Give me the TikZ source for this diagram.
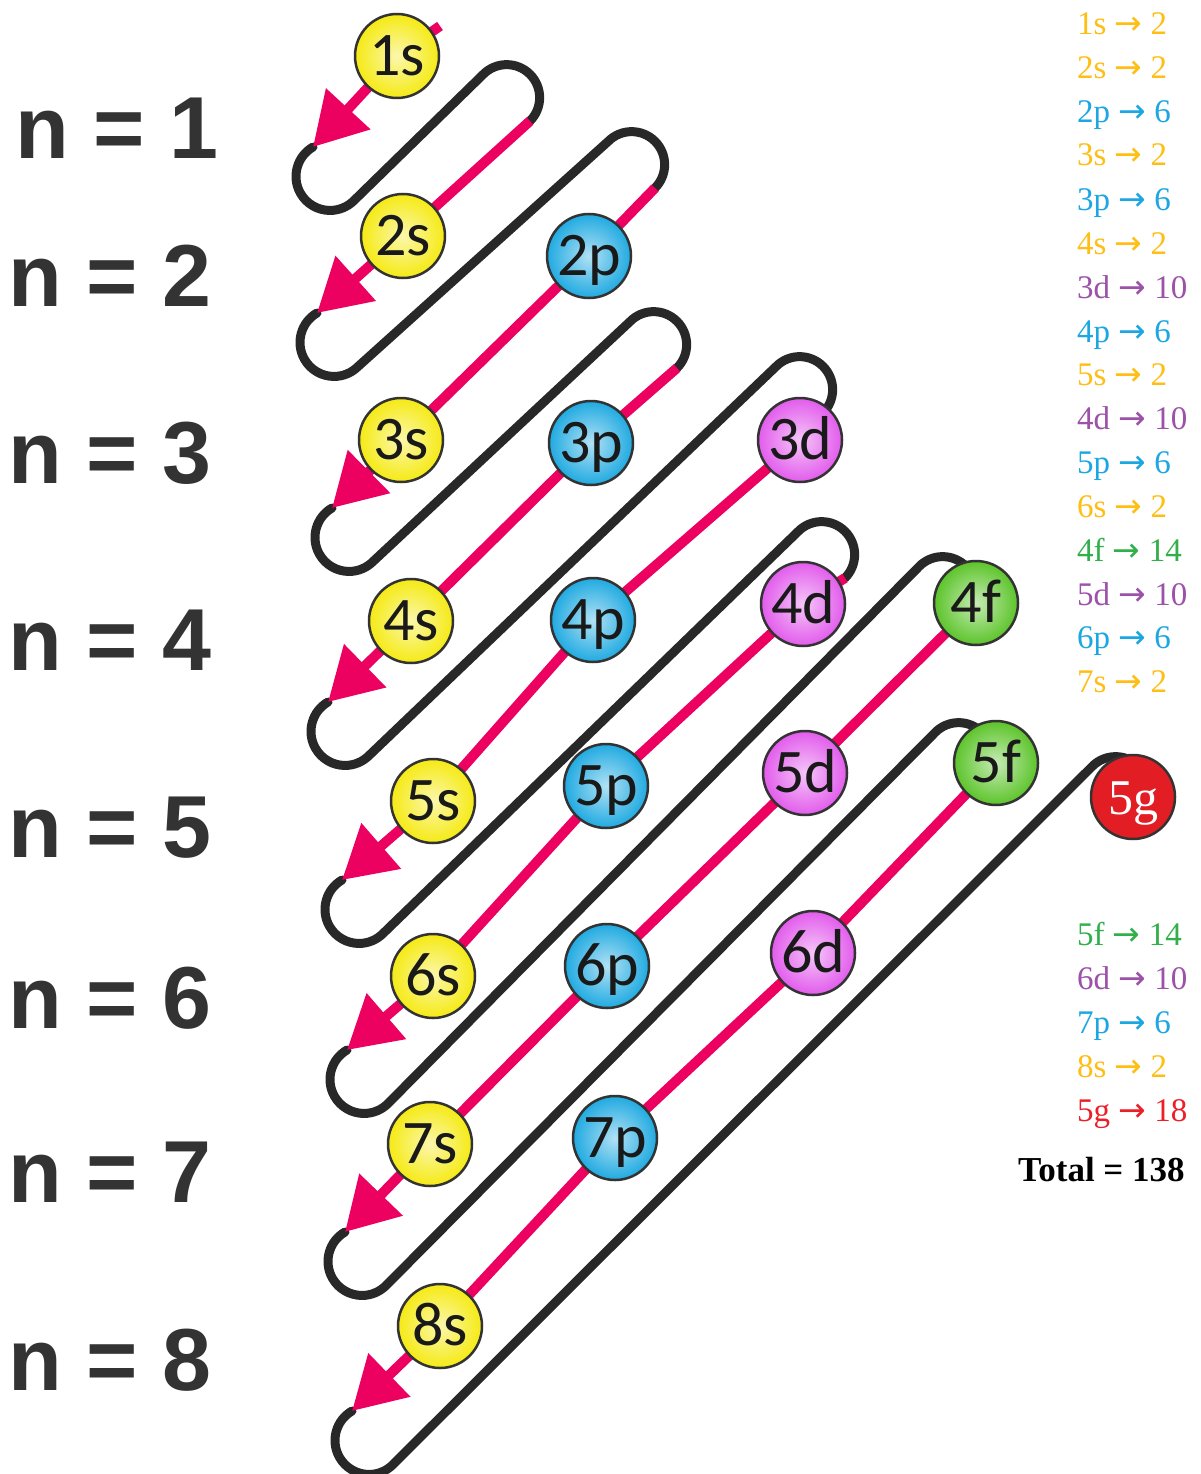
\documentclass[tikz,border=0pt]{standalone}
\usepackage{fontspec}
\usepackage{tikz}
\usetikzlibrary{arrows.meta, calc, backgrounds}
\newfontfamily\orbfont{Carlito}
\newfontfamily\listfont{Liberation Serif}
\newfontfamily\nfont{Liberation Sans}
\newfontfamily\arrfont{DejaVu Sans}
\newcommand{\goesto}{{\arrfont →}}
\definecolor{arrpink}{RGB}{236,0,96}
\definecolor{loopgray}{RGB}{40,40,40}
\definecolor{ballyel}{RGB}{245,234,20}
\definecolor{ballblue}{RGB}{32,170,225}
\definecolor{ballpink}{RGB}{226,92,236}
\definecolor{ballgreen}{RGB}{92,196,42}
\definecolor{ballred}{RGB}{226,30,36}
\definecolor{txtyel}{RGB}{255,190,20}
\definecolor{txtblue}{RGB}{28,166,226}
\definecolor{txtpurp}{RGB}{155,82,168}
\definecolor{txtgreen}{RGB}{50,175,75}
\definecolor{txtred}{RGB}{236,30,40}

\begin{document}
\begin{tikzpicture}[x=1pt, y=1pt,
    orb/.style={circle, draw=black!80, line width=2.5pt, minimum size=84pt, inner sep=0pt,
      text height=39pt, text depth=0pt, font=\orbfont\fontsize{62}{62}\selectfont, text=black!90},
    pk/.style={draw=arrpink, line width=10pt, line join=round, -{Triangle[length=52pt, width=58pt]}},
    bk/.style={draw=loopgray, line width=9pt, line cap=round},
    nlab/.style={anchor=west, inner sep=0pt, text=black!80, font=\nfont\bfseries\fontsize{88}{88}\selectfont},
    cnt/.style={anchor=base west, inner sep=0pt, font=\listfont\fontsize{33}{33}\selectfont}]
  \useasboundingbox (0,0) rectangle (1201,-1474);

  \foreach \nm/\xx/\yy/\cl in {1s/397/56/ballyel, 2s/403/236/ballyel, 2p/589/256/ballblue,
      3s/401/440/ballyel, 3p/591/443/ballblue, 3d/800/440/ballpink,
      4s/411/621/ballyel, 4p/593/620/ballblue, 4d/803/604/ballpink, 4f/976/603/ballgreen,
      5s/433/801/ballyel, 5p/606/786/ballblue, 5d/805/773/ballpink, 5f/996/763/ballgreen,
      6s/433/976/ballyel, 6p/607/966/ballblue, 6d/813/953/ballpink,
      7s/430/1144/ballyel, 7p/615/1138/ballblue, 8s/440/1326/ballyel}
    \node[orb, inner color=\cl!35!white, outer color=\cl] (o\nm) at (\xx,-\yy) {\nm};
  \node[orb, fill=ballred, text=white, text height=34pt, font=\listfont\fontsize{50}{50}\selectfont]
    (o5g) at (1133,-797) {5g};

  \foreach \k/\tx/\ty/\ax/\ay in {1/440/26/313/147, 2/530/121/317/313, 3/655/188/332/508,
      4/677/368/328/702, 5/823/413/342/880, 6/845/578/347/1050, 7/966/613/345/1232,
      8/982/779/352/1411}{
    \coordinate (top\k) at (\tx,-\ty);
    \coordinate (tip\k) at (\ax,-\ay);
  }
  \coordinate (top9) at (1139,-813);

  \foreach \n/\xx/\yy in {1/15/128, 2/8/276, 3/8/453, 4/8/640, 5/8/828, 6/8/998, 7/8/1172, 8/8/1360}
    \node[nlab] (n\n) at (\xx,-\yy) {n = \n};

  \foreach \lb/\ct/\cl/\yy in {1s/2/txtyel/35, 2s/2/txtyel/79, 2p/6/txtblue/123, 3s/2/txtyel/166,
      3p/6/txtblue/210, 4s/2/txtyel/254, 3d/10/txtpurp/298, 4p/6/txtblue/342, 5s/2/txtyel/385,
      4d/10/txtpurp/429, 5p/6/txtblue/473, 6s/2/txtyel/517, 4f/14/txtgreen/561, 5d/10/txtpurp/605,
      6p/6/txtblue/648, 7s/2/txtyel/692, 5f/14/txtgreen/945, 6d/10/txtpurp/989, 7p/6/txtblue/1033,
      8s/2/txtyel/1077, 5g/18/txtred/1121}
    \node[cnt, text=\cl] (l\lb) at (1077,-\yy) {\lb{} \goesto{} \ct};
  \node[cnt, font=\listfont\bfseries\fontsize{35}{35}\selectfont] (total) at (1018,-1181) {Total = 138};

  \begin{scope}[on background layer]
    \fill[white] (0,0) rectangle (1201,-1474);
    \foreach \k/\j in {1/2,2/3,3/4,4/5,5/6,6/7,7/8,8/9}
      \draw[bk] (tip\k) arc[start angle=120, end angle=315, radius=34]
        -- ($(top\j)+(-46.7,46.7)$) arc[start angle=135, end angle=-45, radius=33];
    \draw[pk] (top1) -- (o1s.center) -- (tip1);
    \draw[pk] (top2) -- (o2s.center) -- (tip2);
    \draw[pk] (top3) -- (o2p.center) -- (o3s.center) -- (tip3);
    \draw[pk] (top4) -- (o3p.center) -- (o4s.center) -- (tip4);
    \draw[pk] (top5) -- (o3d.center) -- (o4p.center) -- (o5s.center) -- (tip5);
    \draw[pk] (top6) -- (o4d.center) -- (o5p.center) -- (o6s.center) -- (tip6);
    \draw[pk] (top7) -- (o4f.center) -- (o5d.center) -- (o6p.center) -- (o7s.center) -- (tip7);
    \draw[pk] (top8) -- (o5f.center) -- (o6d.center) -- (o7p.center) -- (o8s.center) -- (tip8);
  \end{scope}
\end{tikzpicture}
\end{document}
